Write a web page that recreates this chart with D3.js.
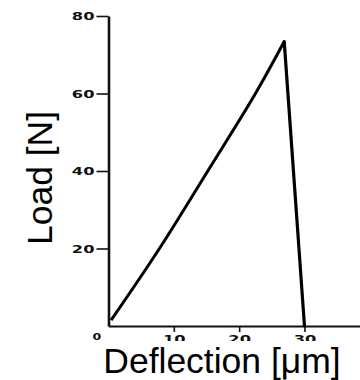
<!DOCTYPE html>
<html>
<head>
<meta charset="utf-8">
<script src="https://cdn.jsdelivr.net/npm/d3@7"></script>
<style>
  body { margin: 0; background: #fff; }
  svg { display: block; }
</style>
</head>
<body>
<div id="chart"></div>
<script>
// load-deflection curve
const deflection = [0.4, 7.8, 15.2, 22.5, 26.9, 30.0];
const load = [1.5, 20, 40, 60, 73.4, 0];
const peakIndex = 4;
const xTicks = [10, 20, 30];
const yTicks = [20, 40, 60, 80];
const xLabel = "Deflection [μm]";
const yLabel = "Load [N]";

const width = 360, height = 380;

const svg = d3.select("#chart").append("svg")
  .attr("width", width)
  .attr("height", height);

// x tick numbers are cut in half in the scan (clip in tick-local coords)
svg.append("clipPath").attr("id", "tickclip")
  .append("rect").attr("x", -40).attr("y", -10).attr("width", 80).attr("height", 25);

// scales
const x = d3.scaleLinear().domain([0, 38.5]).range([108.5, 360]);
const y = d3.scaleLinear().domain([0, 80]).range([326, 16]);

const tickFont = sel => sel
  .style("font-family", "DejaVu Sans").style("font-weight", "bold")
  .style("font-size", "10.5px").attr("fill", "#111");

// y axis
const yAxis = svg.append("g")
  .attr("transform", "translate(" + x(0) + ",0)")
  .call(d3.axisLeft(y).tickValues(yTicks).tickSize(12).tickSizeOuter(0).tickFormat(d3.format("d")));
yAxis.select(".domain").attr("stroke", "#111").attr("stroke-width", 2.6);
yAxis.selectAll(".tick line").attr("stroke", "#111").attr("stroke-width", 1.6);
yAxis.selectAll(".tick text")
  .attr("x", null).attr("dy", "0.36em")
  .attr("transform", "translate(-14,0) scale(1.55,1)")
  .call(tickFont);

// x axis
const xAxis = svg.append("g")
  .attr("transform", "translate(0," + y(0) + ")")
  .call(d3.axisBottom(x).tickValues(xTicks).tickSize(6).tickSizeOuter(0).tickFormat(d3.format("d")));
xAxis.select(".domain").attr("stroke", "#111").attr("stroke-width", 2);
xAxis.selectAll(".tick line").attr("stroke", "#111").attr("stroke-width", 1.6);
xAxis.selectAll(".tick")
  .attr("clip-path", "url(#tickclip)");
xAxis.selectAll(".tick text")
  .attr("y", null).attr("dy", null)
  .attr("transform", "translate(0,17) scale(1.55,1)")
  .call(tickFont);

// origin label
svg.append("text")
  .attr("transform", "translate(97,339.5) scale(1.4,0.9)")
  .attr("text-anchor", "middle")
  .style("font-family", "DejaVu Sans").style("font-weight", "bold")
  .style("font-size", "9px").attr("fill", "#111")
  .text("0");

// the curve: smooth loading branch, straight drop after the peak
const pts = deflection.map((d, i) => [d, load[i]]);
const rise = d3.line().x(d => x(d[0])).y(d => y(d[1])).curve(d3.curveCatmullRom);
const drop = d3.line().x(d => x(d[0])).y(d => y(d[1]));
svg.append("path")
  .datum(pts.slice(0, peakIndex + 1))
  .attr("d", rise)
  .attr("fill", "none")
  .attr("stroke", "#000")
  .attr("stroke-width", 3);
svg.append("path")
  .datum(pts.slice(peakIndex))
  .attr("d", drop)
  .attr("fill", "none")
  .attr("stroke", "#000")
  .attr("stroke-width", 3.2)
  .attr("stroke-linecap", "round");

// axis titles
svg.append("text")
  .attr("x", 222).attr("y", 373)
  .attr("text-anchor", "middle")
  .style("font-family", "Liberation Sans, Arial, sans-serif")
  .style("font-size", "35.5px")
  .text(xLabel);

svg.append("text")
  .attr("transform", "translate(52,178) rotate(-90)")
  .attr("text-anchor", "middle")
  .style("font-family", "Liberation Sans, Arial, sans-serif")
  .style("font-size", "35.5px")
  .text(yLabel);
</script>
</body>
</html>
